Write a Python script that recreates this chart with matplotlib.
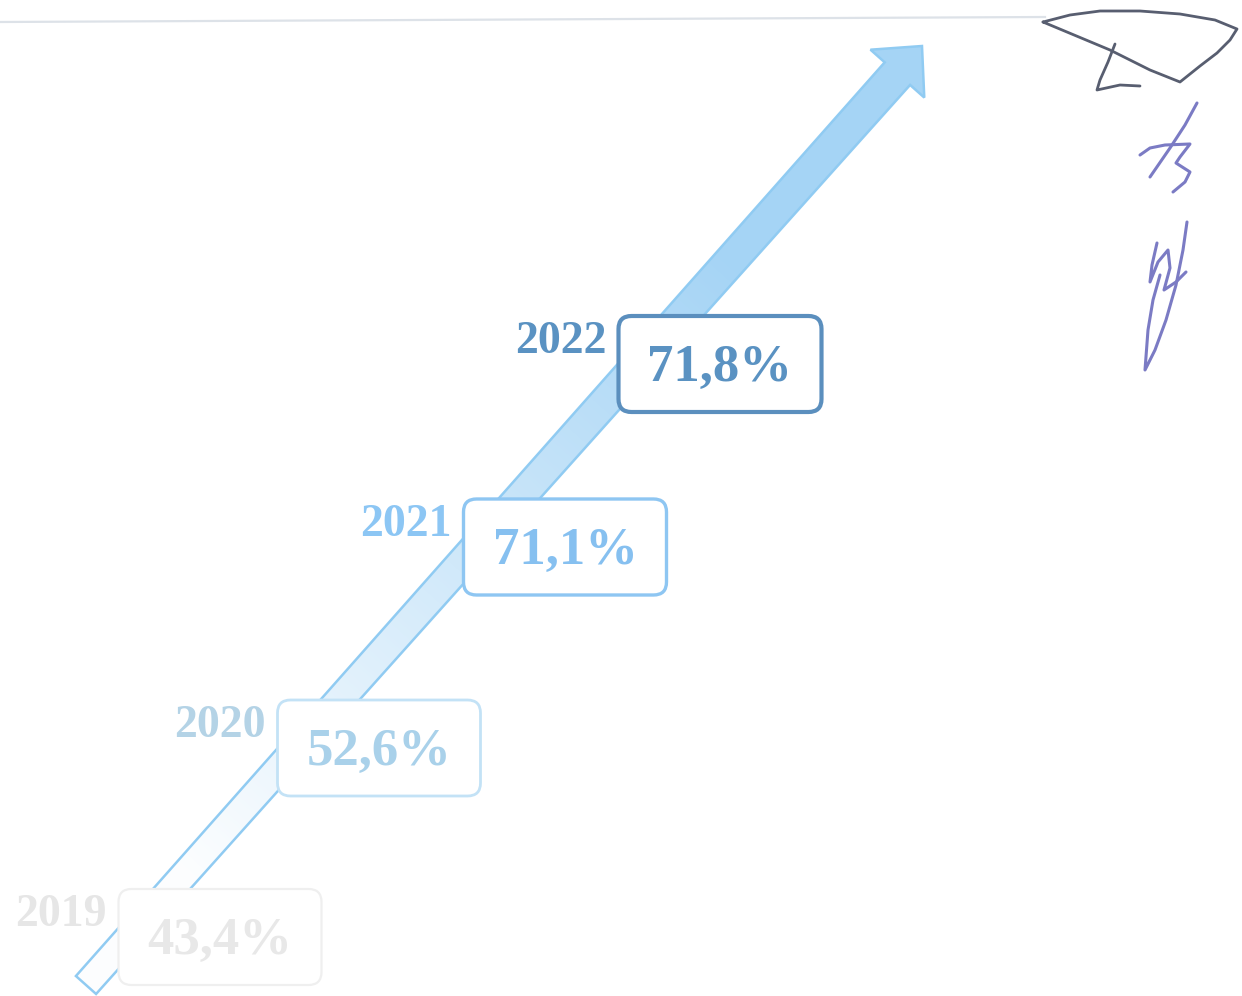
import numpy as np
import matplotlib
matplotlib.use("Agg")
import matplotlib.pyplot as plt
from matplotlib.patches import Polygon, FancyBboxPatch

# Share by year
years = ["2019", "2020", "2021", "2022"]
shares = [43.4, 52.6, 71.1, 71.8]

# Per-year look: older years fade out
edge_colors = ["#efefef", "#c3e2f6", "#8ec6f2", "#5b8fbe"]
value_colors = ["#e8e8e8", "#a9d1ea", "#86c0f0", "#5a92c2"]
year_colors = ["#e6e6e6", "#b4d3e6", "#8cc6f4", "#5a92c2"]
edge_widths = [1.6, 2.0, 2.4, 3.0]

# box centres on the page (pixels)
box_cx = [220, 379, 565, 720]
box_cy = [937, 748, 547, 364]

W, H = 1242, 996

plt.rcParams["font.family"] = ["Liberation Serif", "DejaVu Serif"]

fig = plt.figure(figsize=(W / 100, H / 100), dpi=100)
ax = fig.add_axes([0, 0, 1, 1])
ax.set_xlim(0, W)
ax.set_ylim(H, 0)
ax.axis("off")

# thin rule across the top of the page
ax.plot([0, 1045], [22, 17], color="#dde2e8", lw=1.6, zorder=1)

# ---- rising arrow ----
tail = np.array([86.0, 985.0])
tip = np.array([922.0, 46.0])
length = np.hypot(*(tip - tail))
u = (tip - tail) / length
n = np.array([-u[1], u[0]])          # perpendicular
head_len, head_half = 37, 36
w_tail, w_top = 13.5, 17.0
base = length - head_len


def pt(s, t):
    return tail + u * s + n * t


outline = [pt(0, -w_tail), pt(base, -w_top), pt(base, -head_half), pt(length, 0),
           pt(base, head_half), pt(base, w_top), pt(0, w_tail)]
arrow = Polygon(outline, closed=True, facecolor="none", edgecolor="#90cbf2",
                lw=1.8, joinstyle="miter", zorder=2)
ax.add_patch(arrow)

# fill fades in along the arrow
xx, yy = np.meshgrid(np.arange(W) + 0.5, np.arange(H) + 0.5)
s = (xx - tail[0]) * u[0] + (yy - tail[1]) * u[1]
alpha = np.clip((s - 150) / 820, 0, 1) * 0.95 + 0.03
rgba = np.zeros((H, W, 4))
rgba[..., :3] = matplotlib.colors.to_rgb("#a3d3f5")
rgba[..., 3] = alpha
img = ax.imshow(rgba, extent=(0, W, H, 0), origin="upper", zorder=1.5,
                interpolation="bilinear")
clip = Polygon(outline, closed=True, transform=ax.transData)
img.set_clip_path(clip)
ax.set_xlim(0, W)
ax.set_ylim(H, 0)

# ---- value boxes ----
box_w, box_h = 203, 96

for i, (yr, v) in enumerate(zip(years, shares)):
    cx, cy = box_cx[i], box_cy[i]
    box = FancyBboxPatch((cx - box_w / 2, cy - box_h / 2), box_w, box_h,
                         boxstyle="round,pad=0,rounding_size=13",
                         facecolor="white", edgecolor=edge_colors[i],
                         lw=edge_widths[i], zorder=3)
    ax.add_patch(box)
    label = f"{v:.1f}".replace(".", ",") + "%"
    ax.text(cx, cy + 4, label, ha="center", va="center", fontsize=38,
            fontweight="bold", color=value_colors[i], zorder=4)
    ax.text(cx - box_w / 2 - 12, cy - box_h / 2 + 26, yr, ha="right",
            va="center", fontsize=33, fontweight="bold",
            color=year_colors[i], zorder=4)

# ---- signatures in the corner ----
sig_grey = [
    [(1043, 22), (1070, 15), (1100, 11), (1140, 11), (1180, 14), (1215, 20),
     (1237, 29), (1230, 40), (1217, 53), (1200, 66), (1180, 82), (1150, 70),
     (1110, 50), (1043, 22)],
    [(1115, 44), (1108, 62), (1100, 80), (1097, 90), (1120, 85), (1140, 86)],
]
sig_blue = [
    [(1197, 103), (1185, 125), (1170, 148), (1150, 177)],
    [(1140, 155), (1150, 148), (1165, 145), (1190, 144), (1180, 157),
     (1176, 163), (1190, 172), (1185, 182), (1173, 192)],
    [(1187, 222), (1183, 250), (1176, 285), (1166, 320), (1155, 350),
     (1145, 370), (1148, 330), (1153, 300), (1160, 275)],
    [(1157, 243), (1152, 265), (1150, 282), (1158, 262), (1168, 250),
     (1170, 268), (1164, 290), (1176, 282), (1186, 272)],
]
for stroke in sig_grey:
    xs, ys = zip(*stroke)
    ax.plot(xs, ys, color="#585e70", lw=2.0, solid_capstyle="round",
            solid_joinstyle="round", zorder=5)
for stroke in sig_blue:
    xs, ys = zip(*stroke)
    ax.plot(xs, ys, color="#7b7bc4", lw=2.2, solid_capstyle="round",
            solid_joinstyle="round", zorder=5)

fig.savefig("out.png", dpi=100)
